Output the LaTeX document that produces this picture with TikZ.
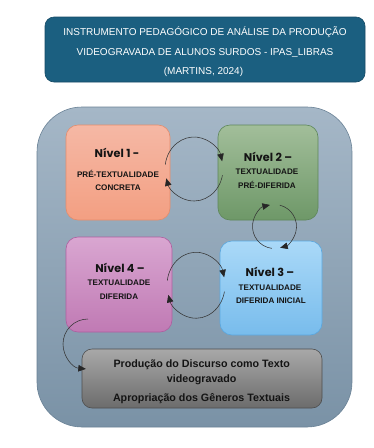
\documentclass[tikz,border=0pt]{standalone}
\usepackage{fontspec}
\setmainfont{Liberation Sans}
\newfontfamily\popfont{Poppins}
\usetikzlibrary{arrows.meta,calc}
\definecolor{titlebg}{HTML}{1B5F80}
\definecolor{titlebd}{HTML}{164B66}
\definecolor{bigtop}{HTML}{A5B7C7}
\definecolor{bigbot}{HTML}{7A92A6}
\definecolor{bigbd}{HTML}{6A8296}
\definecolor{ortop}{HTML}{F5B8A5}
\definecolor{orbot}{HTML}{F39F82}
\definecolor{orbd}{HTML}{E58C6C}
\definecolor{grtop}{HTML}{A2BE9A}
\definecolor{grbot}{HTML}{6E9868}
\definecolor{grbd}{HTML}{5E875A}
\definecolor{pktop}{HTML}{D9A6D1}
\definecolor{pkbot}{HTML}{C07AB4}
\definecolor{pkbd}{HTML}{AE5FA0}
\definecolor{bltop}{HTML}{AAD9F8}
\definecolor{blbot}{HTML}{78BCEC}
\definecolor{blbd}{HTML}{5AA8E0}
\definecolor{gytop}{HTML}{A8A8A8}
\definecolor{gybot}{HTML}{6C6C6C}
\definecolor{gybd}{HTML}{4E4E4E}
\definecolor{arrowc}{HTML}{353535}
\definecolor{txt}{HTML}{141414}
\tikzset{
  levelbox/.style={rounded corners=12pt, line width=0.6pt, inner sep=0pt},
  lvt/.style={anchor=base, inner sep=0pt, text=txt, font=\popfont\fontsize{11.2}{13}\bfseries\selectfont},
  lvs/.style={anchor=base, inner sep=0pt, text=txt, font=\fontsize{8.1}{9}\bfseries\selectfont},
  titletxt/.style={anchor=base, inner sep=0pt, text=white, font=\fontsize{10}{12}\selectfont},
  prodtxt/.style={anchor=base, inner sep=0pt, text=txt, font=\fontsize{10.7}{12}\bfseries\selectfont},
  cyclearrow/.style={draw=arrowc, line width=0.55pt, -{Triangle[length=7.5pt,width=6.5pt,color=black!85]}},
}
\begin{document}
\begin{tikzpicture}[x=1pt,y=-1pt]
\useasboundingbox (0,0) rectangle (374,448);
\fill[white] (0,0) rectangle (374,448);

% title
\node[draw=titlebd, fill=titlebg, rounded corners=9pt, line width=0.6pt,
      minimum width=320pt, minimum height=65pt, inner sep=0pt] (title) at (205,49.5) {};
\node[titletxt] (t1) at (205,35.2) {INSTRUMENTO PEDAGÓGICO DE ANÁLISE DA PRODUÇÃO};
\node[titletxt] (t2) at (205,55.0) {VIDEOGRAVADA DE ALUNOS SURDOS - IPAS\_LIBRAS};
\node[titletxt] (t3) at (203.5,74.2) {(MARTINS, 2024)};

% big background box
\node[draw=bigbd, top color=bigtop, bottom color=bigbot, rounded corners=45pt, line width=0.6pt,
      minimum width=315pt, minimum height=320pt, inner sep=0pt] (big) at (194.5,267) {};

% level boxes
\node[levelbox, draw=orbd, top color=ortop, bottom color=orbot,
      minimum width=104pt, minimum height=95pt] (n1) at (118,172.5) {};
\node[levelbox, draw=grbd, top color=grtop, bottom color=grbot,
      minimum width=100pt, minimum height=95pt] (n2) at (268,172.5) {};
\node[levelbox, draw=pkbd, top color=pktop, bottom color=pkbot,
      minimum width=106pt, minimum height=95pt] (n4) at (119,284.5) {};
\node[levelbox, draw=blbd, top color=bltop, bottom color=blbot,
      minimum width=102pt, minimum height=94pt] (n3) at (271,288) {};

\node[lvt] (n1a) at (117,157) {Nível 1 -};
\node[lvs] (n1b) at (118,177.9) {PRÉ-TEXTUALIDADE};
\node[lvs] (n1c) at (118,190.9) {CONCRETA};

\node[lvt] (n2a) at (268,161) {Nível 2 –};
\node[lvs] (n2b) at (267,174.9) {TEXTUALIDADE};
\node[lvs] (n2c) at (267,188.9) {PRÉ-DIFERIDA};

\node[lvt] (n4a) at (120,272) {Nível 4 –};
\node[lvs] (n4b) at (119,285.9) {TEXTUALIDADE};
\node[lvs] (n4c) at (119,299.9) {DIFERIDA};

\node[lvt] (n3a) at (270,276) {Nível 3 –};
\node[lvs] (n3b) at (270,290.9) {TEXTUALIDADE};
\node[lvs] (n3c) at (271,303.9) {DIFERIDA INICIAL};

% bottom box
\node[draw=gybd, top color=gytop, bottom color=gybot, rounded corners=10pt, line width=0.6pt,
      minimum width=240pt, minimum height=59pt, inner sep=0pt] (prod) at (202,378.5) {};
\node[prodtxt] (p1) at (201.7,367) {Produção do Discurso como Texto};
\node[prodtxt] (p2) at (201.7,382) {videogravado};
\node[prodtxt] (p3) at (201.5,401) {Apropriação dos Gêneros Textuais};

% cycle centres
\coordinate (c12) at ($(n1.east)!0.5!(n2.west)+(0,-3.5)$);
\coordinate (c23) at (274.5,226.5);
\coordinate (c43) at ($(n4.east)!0.5!(n3.west)+(0,-1)$);
\coordinate (c4p) at (88,344);

% cycle 1 <-> 2
\draw[cyclearrow] ([shift={(172:29pt and 32pt)}]c12) arc[start angle=172, end angle=14, x radius=29pt, y radius=32pt];
\draw[cyclearrow] ([shift={(349:29pt and 32pt)}]c12) arc[start angle=349, end angle=197, x radius=29pt, y radius=32pt];
% cycle 2 <-> 3
\draw[cyclearrow] ([shift={(76:22pt and 22pt)}]c23) arc[start angle=76, end angle=-75, x radius=22pt, y radius=22pt];
\draw[cyclearrow] ([shift={(263:22pt and 22pt)}]c23) arc[start angle=263, end angle=102, x radius=22pt, y radius=22pt];
% cycle 4 <-> 3
\draw[cyclearrow] ([shift={(172:29pt and 33pt)}]c43) arc[start angle=172, end angle=14, x radius=29pt, y radius=33pt];
\draw[cyclearrow] ([shift={(349:29pt and 33pt)}]c43) arc[start angle=349, end angle=197, x radius=29pt, y radius=33pt];
% 4 -> production
\draw[cyclearrow] ([shift={(90:25pt and 25pt)}]c4p) arc[start angle=90, end angle=265, radius=25pt];
\end{tikzpicture}
\end{document}
